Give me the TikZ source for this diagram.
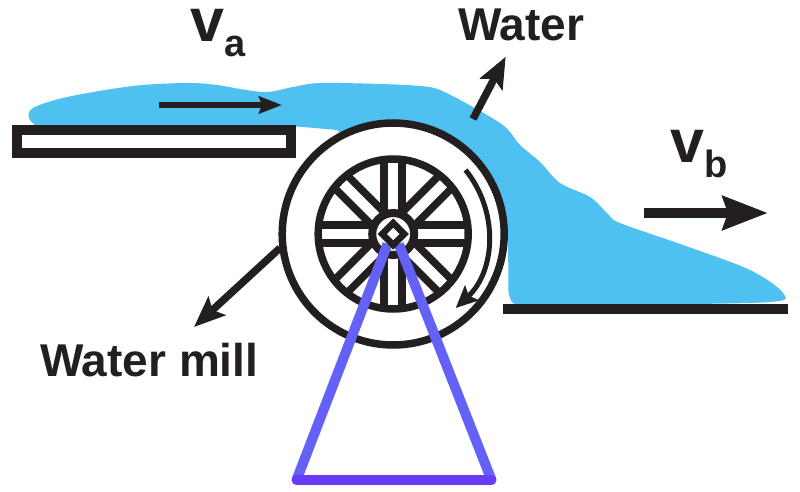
\documentclass[tikz,border=0pt]{standalone}
\usepackage{fontspec}
\setmainfont{Liberation Sans}
\usetikzlibrary{arrows.meta,shapes.geometric}
\definecolor{inkblack}{HTML}{231F20}
\definecolor{waterblue}{HTML}{4FC1F1}
\definecolor{standblue}{HTML}{6461F6}
\definecolor{standviolet}{HTML}{6A3CF5}
\tikzset{
	label/.style={inner sep=0pt,text=inkblack,font=\fontsize{46}{46}\selectfont\bfseries},
	speedlabel/.style={inner sep=0pt,text=inkblack,font=\fontsize{61}{61}\selectfont\bfseries},
	ring/.style={draw=inkblack,circle,fill=white,inner sep=0pt},
	pointer/.style={draw=inkblack,line width=7.5pt,-{Stealth[length=31pt,width=25pt,inset=6pt]}},
	spokeline/.style={draw=inkblack,line width=7.5pt}
}
\newcommand{\subtext}[2]{\raisebox{#1}{\fontsize{38}{38}\selectfont #2}}
\begin{document}
\begin{tikzpicture}[x=1pt,y=-1pt]
			\useasboundingbox (0,0) rectangle (800,492);
			% Water stream
			\fill[waterblue] plot[smooth,tension=0.55] coordinates {(35,125) (29,118) (33,108) (67,97) (133,86) (187,83) (217,85) (240,89) (267,92) (293,87) (320,83) (380,84) (420,86) (440,90) (473,107) (500,123) (510,132) (520,145) (540,162) (560,183) (590,197) (607,213) (620,223) (683,245) (750,270) (783,293) (770,302) (640,304.5) (530,304.5) (513,303) (508.5,292)} -- (508,234) -- (393,180) -- (337,130) -- (303,127) -- (270,125) -- cycle;

			% Flume and floor
			\node[draw=inkblack,line width=10pt,fill=white,minimum width=274.5pt,minimum height=23pt,inner sep=0pt] (flume) at (154.2,141.5) {};
			\node[fill=inkblack,minimum width=285pt,minimum height=10pt,inner sep=0pt] (floor) at (645.5,309) {};

			% Water mill
			\coordinate (millc) at (393.2,234);
			\node[ring,line width=7.5pt,minimum size=222pt] (mill) at (millc) {};
			\node[ring,line width=7.5pt,minimum size=150pt] (rim) at (millc) {};
			\foreach \a in {0,45,...,315}{
				\begin{scope}[shift={(millc)},rotate=\a]
					\draw[spokeline] (20,-9) -- (72,-9);
					\draw[spokeline] (20,9) -- (72,9);
				\end{scope}
			}
			\node[ring,line width=8pt,minimum size=42pt] (hub) at (millc) {};

			% Stand
			\coordinate (standl) at (387.5,244);
			\coordinate (standr) at (398.8,244);
			\coordinate (footl) at (296.5,480);
			\coordinate (footr) at (491.5,480);
			\draw[standblue,line width=10pt] (standl) -- (footl);
			\draw[standblue,line width=10pt] (standr) -- (footr);
			\draw[standviolet,line width=10pt,line cap=round] (footl) -- (footr);
			\node[diamond,draw=inkblack,fill=white,line width=6.5pt,minimum size=22pt,inner sep=0pt,outer sep=0pt,aspect=1] (shaft) at (millc) {};

			% Labels
			\node[speedlabel,anchor=base west] (va) at (190,42) {v\subtext{-15pt}{a}};
			\node[speedlabel,anchor=base west] (vb) at (670,162) {v\subtext{-15pt}{b}};
			\node[label,anchor=base west] (water) at (458,41) {Water};
			\node[label,anchor=base west] (millname) at (40,376) {Water mill};

			% Arrows
			\coordinate (flowa) at (159,105);
			\coordinate (flowb) at (282,105);
			\draw[draw=inkblack,line width=5.5pt,-{Stealth[length=23pt,width=17pt,inset=3pt]}] (flowa) -- (flowb);
			\coordinate (speeda) at (644,213);
			\coordinate (speedb) at (768,213);
			\draw[draw=inkblack,line width=10.5pt,-{Stealth[length=45pt,width=33pt,inset=5pt]}] (speeda) -- (speedb);
			\coordinate (watera) at (473,119);
			\coordinate (waterb) at (505.7,56.7);
			\draw[pointer] (watera) -- (waterb);
			\coordinate (milla) at (280,248);
			\coordinate (millb) at (194,327);
			\draw[pointer] (milla) -- (millb);
			\coordinate (spina) at (465.5,170);
			\coordinate (spinb) at (455.7,308);
			\draw[draw=inkblack,line width=5pt,-{Stealth[length=22pt,width=20pt,inset=4pt]}] (spina) to[bend left=43] (spinb);
\end{tikzpicture}
\end{document}
